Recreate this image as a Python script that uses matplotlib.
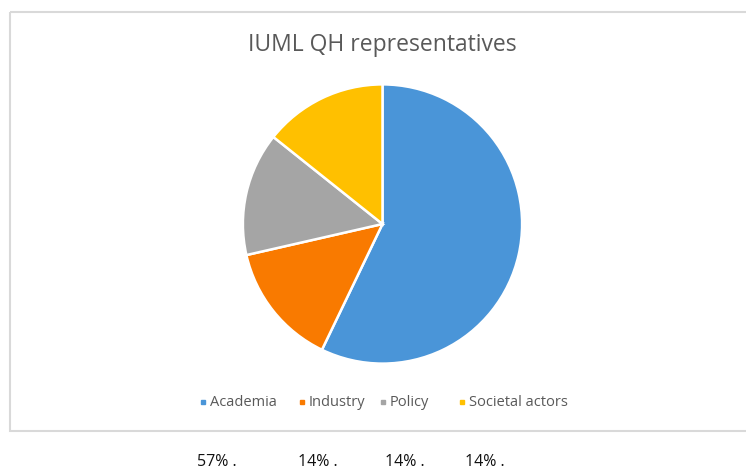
import matplotlib
matplotlib.use('Agg')
import matplotlib.pyplot as plt
from matplotlib.patches import Rectangle

W, H = 746, 469

categories = ['Academia', 'Industry', 'Policy', 'Societal actors']
values = [4, 1, 1, 1]
colors = ['#4A95D8', '#F97A00', '#A5A5A5', '#FFC000']
pct_labels = ['57% .', '14% .', '14% .', '14% .']

plt.rcParams['font.family'] = ['Open Sans', 'DejaVu Sans']

fig = plt.figure(figsize=(W / 100, H / 100), dpi=100)

# background layer in pixel coordinates (y down)
bg = fig.add_axes([0, 0, 1, 1])
bg.set_xlim(0, W)
bg.set_ylim(H, 0)
bg.axis('off')
bg.add_patch(Rectangle((10, 12), W + 20, 419, fill=False, edgecolor='#D9D9D9', lw=1.5))

bg.text(382, 51, 'IUML QH representatives', ha='center', va='baseline',
        fontsize=16.5, color='#595959')

# pie, centre (382, 224) radius 141 px
cx, cy, r = 382.5, 224, 141
ax = fig.add_axes([(cx - r) / W, 1 - (cy + r) / H, 2 * r / W, 2 * r / H])
ax.pie(values, colors=colors, startangle=90, counterclock=False,
       wedgeprops=dict(edgecolor='white', linewidth=1.8))
ax.set_xlim(-1.01, 1.01)
ax.set_ylim(-1.01, 1.01)
ax.set_aspect('equal')

# legend
leg_x = [203, 302, 383, 462]
for x, c, name in zip(leg_x, colors, categories):
    bg.add_patch(Rectangle((x - 2, 400), 4, 4, color=c))
    bg.text(x + 7, 406, name, ha='left', va='baseline', fontsize=10.5, color='#595959')

# percentages below the chart box
pct_x = [197, 298, 385, 465]
for x, s in zip(pct_x, pct_labels):
    bg.text(x, 466, s, ha='left', va='baseline', fontsize=11.5, color='#111111')

fig.savefig('out.png', dpi=100)
plt.close(fig)
